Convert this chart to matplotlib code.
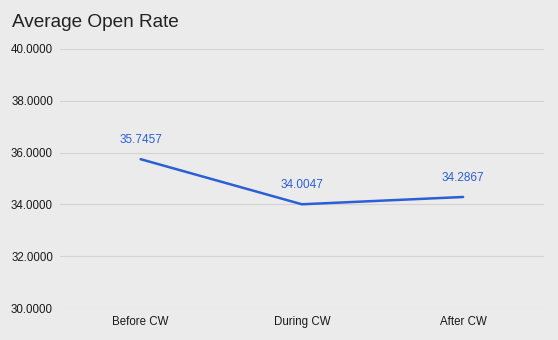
import matplotlib.pyplot as plt

# ── Data ─────────────────────────────────────────────────────────────────────
periods = ["Before CW", "During CW", "After CW"]
open_rate = [35.7457, 34.0047, 34.2867]
y_ticks = [30, 32, 34, 36, 38, 40]

BG = "#ebebeb"
LINE = "#2b5fd6"

plt.rcParams["font.family"] = ["Liberation Sans", "DejaVu Sans"]

fig = plt.figure(figsize=(5.58, 3.4), dpi=100, facecolor=BG)
ax = fig.add_axes([0.1075, 0.094, 0.867, 0.762], facecolor=BG)

x = range(len(periods))
ax.plot(x, open_rate, color=LINE, linewidth=1.8, solid_capstyle="round")
for xi, v in zip(x, open_rate):
    ax.annotate(f"{v:.4f}", (xi, v), xytext=(0, 19), textcoords="offset pixels",
                ha="center", va="center", fontsize=8.5, color=LINE)

ax.set_xlim(-0.5, len(periods) - 0.5)
ax.set_ylim(30, 40)
ax.set_yticks(y_ticks)
ax.set_yticklabels([f"{t:.4f}" for t in y_ticks])
ax.set_xticks(list(x))
ax.set_xticklabels(periods)
ax.tick_params(axis="both", length=0, labelsize=8.3, labelcolor="#1a1a1a")
ax.tick_params(axis="y", pad=5)
ax.tick_params(axis="x", pad=6)
ax.grid(axis="y", color="#d3d3d3", linewidth=0.8)
ax.set_axisbelow(True)
for s in ax.spines.values():
    s.set_visible(False)

fig.text(0.022, 0.935, "Average Open Rate", fontsize=13.7, color="#222222",
         ha="left", va="center")

fig.savefig("out.png", dpi=100, facecolor=BG)
